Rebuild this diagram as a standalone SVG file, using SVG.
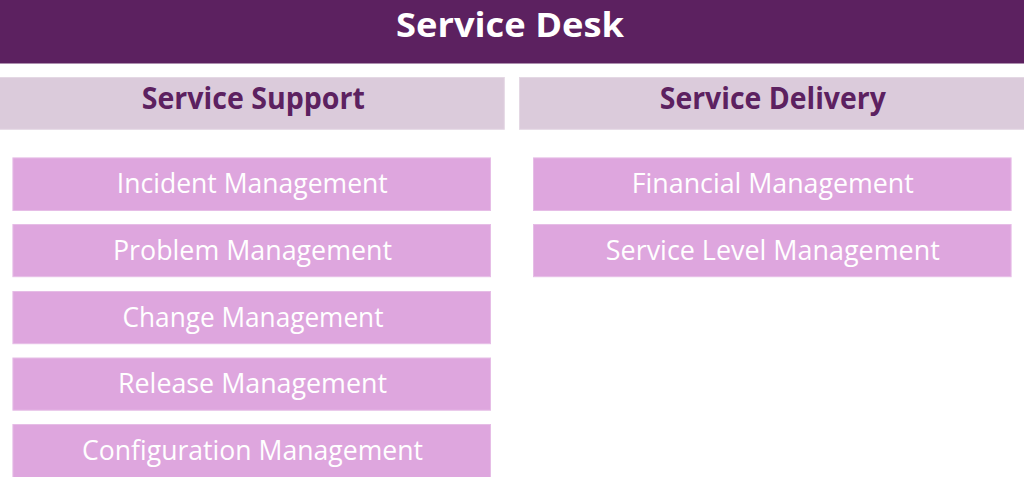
<svg xmlns="http://www.w3.org/2000/svg" width="1024" height="477" viewBox="0 0 1024 477">
<style>
.bar{fill:#5C2160}
.hdr{fill:#DBCBDB;stroke:#E4D8E4;stroke-width:1}
.item{fill:#DEA6DE;stroke:#E6BDE6;stroke-width:1}
.title{font-family:"Open Sans","Noto Sans","Liberation Sans",sans-serif;font-weight:700;font-size:33.5px;fill:#FFFFFF;text-anchor:middle}
.htxt{font-family:"Open Sans","Noto Sans","Liberation Sans",sans-serif;font-weight:700;font-size:30.5px;fill:#5C2160;text-anchor:middle}
.itxt{font-family:"Open Sans","Noto Sans","Liberation Sans",sans-serif;font-weight:500;font-size:28px;fill:#FFFFFF;text-anchor:middle}
</style>
<rect width="1024" height="477" fill="#FFFFFF"/>
<g id="service-desk">
<rect class="bar" x="0" y="0" width="1024" height="63.5"/>
<text class="title" x="510" y="37.3" textLength="228" lengthAdjust="spacingAndGlyphs">Service Desk</text>
</g>
<g id="service-support">
<rect class="hdr" x="-1" y="77.5" width="505.3" height="51.8"/>
<text class="htxt" x="253.3" y="109.3" textLength="223" lengthAdjust="spacingAndGlyphs">Service Support</text>
</g>
<g id="service-delivery">
<rect class="hdr" x="519.5" y="77.5" width="506" height="51.8"/>
<text class="htxt" x="772.8" y="109.3" textLength="226" lengthAdjust="spacingAndGlyphs">Service Delivery</text>
</g>
<g id="incident-management">
<rect class="item" x="12.9" y="157.9" width="477.6" height="52.6"/>
<text class="itxt" x="252.3" y="193.3" textLength="271" lengthAdjust="spacingAndGlyphs">Incident Management</text>
</g>
<g id="problem-management">
<rect class="item" x="12.9" y="224.5" width="477.6" height="52.2"/>
<text class="itxt" x="252.5" y="260" textLength="279" lengthAdjust="spacingAndGlyphs">Problem Management</text>
</g>
<g id="change-management">
<rect class="item" x="12.9" y="291.5" width="477.6" height="52.2"/>
<text class="itxt" x="253" y="326.7" textLength="261" lengthAdjust="spacingAndGlyphs">Change Management</text>
</g>
<g id="release-management">
<rect class="item" x="12.9" y="358" width="477.6" height="52.2"/>
<text class="itxt" x="252.5" y="393.3" textLength="269" lengthAdjust="spacingAndGlyphs">Release Management</text>
</g>
<g id="configuration-management">
<rect class="item" x="12.9" y="424.5" width="477.6" height="53"/>
<text class="itxt" x="252.5" y="460" textLength="341" lengthAdjust="spacingAndGlyphs">Configuration Management</text>
</g>
<g id="financial-management">
<rect class="item" x="533.5" y="157.9" width="477.6" height="52.6"/>
<text class="itxt" x="772.8" y="193.3" textLength="282" lengthAdjust="spacingAndGlyphs">Financial Management</text>
</g>
<g id="service-level-management">
<rect class="item" x="533.5" y="224.5" width="477.6" height="52.2"/>
<text class="itxt" x="772.8" y="260" textLength="334" lengthAdjust="spacingAndGlyphs">Service Level Management</text>
</g>
<g id="connectors"></g>
</svg>
